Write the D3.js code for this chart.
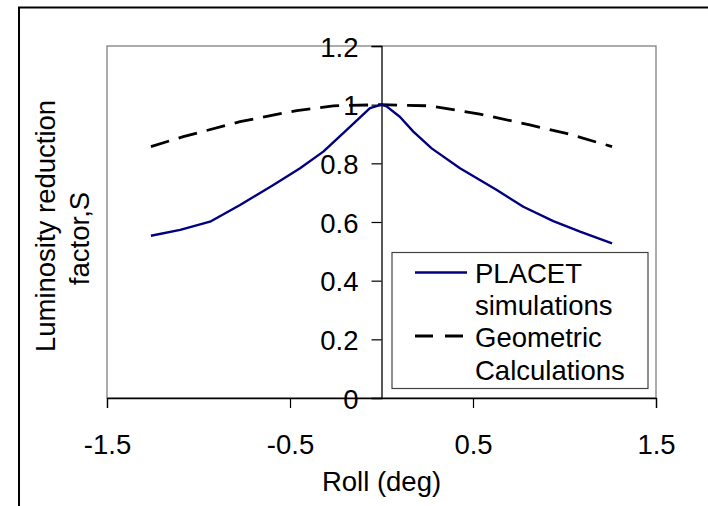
<!DOCTYPE html>
<html>
<head>
<meta charset="utf-8">
<script src="https://cdn.jsdelivr.net/npm/d3@7"></script>
<style>
  html, body { margin: 0; padding: 0; background: #fff; }
  svg { display: block; }
  text { font-family: "Liberation Sans", Arial, sans-serif; fill: #000; }
</style>
</head>
<body>
<script>
// ---- data ----
const rollPlacet = [-1.26, -1.10, -0.937, -0.773, -0.591, -0.445, -0.318, -0.19, -0.063, 0, 0.028, 0.10, 0.174, 0.274, 0.429, 0.63, 0.775, 0.939, 1.085, 1.26];
const placet     = [0.553, 0.573, 0.601, 0.658, 0.726, 0.783, 0.840, 0.914, 0.988, 1.0, 0.994, 0.959, 0.908, 0.851, 0.783, 0.709, 0.652, 0.603, 0.567, 0.527];
const rollGeom   = [-1.26, -1.083, -0.773, -0.463, -0.263, 0, 0.265, 0.538, 0.81, 1.01, 1.26];
const geom       = [0.857, 0.891, 0.942, 0.98, 0.996, 1.0, 0.996, 0.968, 0.931, 0.902, 0.857];
const xTicks = [-1.5, -0.5, 0.5, 1.5];
const yTicks = [0, 0.2, 0.4, 0.6, 0.8, 1, 1.2];
const seriesNames = [["PLACET", "simulations"], ["Geometric", "Calculations"]];
const xTitle = "Roll (deg)";
const yTitle = ["Luminosity reduction", "factor,S"];

(function () {
const W = 708, H = 506;
const svg = d3.select("body").append("svg").attr("width", W).attr("height", H);

const pL = 107, pR = 656, pT = 46, pB = 398;
const x = d3.scaleLinear().domain([-1.5, 1.5]).range([pL, pR]);
const y = d3.scaleLinear().domain([0, 1.2]).range([pB, pT]);
const FS = 27.5;
const FF = "Liberation Sans, Arial, sans-serif";
const fmt = d => String(d);

// outer frame
svg.append("path")
  .attr("d", `M19,${H + 5} L19,7.5 L${W + 5},7.5`)
  .attr("fill", "none").attr("stroke", "#000").attr("stroke-width", 2);

// plot area border
svg.append("rect")
  .attr("x", pL).attr("y", pT).attr("width", pR - pL).attr("height", pB - pT)
  .attr("fill", "none").attr("stroke", "#808080").attr("stroke-width", 1.3);

// x axis
const xAxis = d3.axisBottom(x).tickValues(xTicks).tickSize(10).tickPadding(18).tickFormat(fmt);
const gx = svg.append("g").attr("transform", `translate(0,${pB})`).call(xAxis);
gx.select(".domain").attr("stroke", "#000").attr("stroke-width", 1.3);
gx.selectAll(".tick line").attr("stroke", "#000").attr("stroke-width", 1.2);
gx.selectAll(".tick text").attr("font-size", FS).attr("font-family", FF)
  .attr("dy", null).attr("y", 55.5);

// y axis at x = 0
const yAxis = d3.axisLeft(y).tickValues(yTicks).tickSize(10).tickPadding(14).tickFormat(fmt);
const gy = svg.append("g").attr("transform", `translate(${x(0)},0)`).call(yAxis);
gy.select(".domain").attr("stroke", "#000").attr("stroke-width", 1.3);
gy.selectAll(".tick line").attr("stroke", "#000").attr("stroke-width", 1.2);
gy.selectAll(".tick text").attr("font-size", FS).attr("font-family", FF)
  .attr("dy", null).attr("y", 10).attr("x", -23);

// lines
const line = d3.line().x(d => x(d[0])).y(d => y(d[1]));
svg.append("path")
  .datum(rollGeom.map((r, i) => [r, geom[i]]))
  .attr("d", line).attr("fill", "none").attr("stroke", "#000")
  .attr("stroke-width", 2.8).attr("stroke-dasharray", "19,10");
svg.append("path")
  .datum(rollPlacet.map((r, i) => [r, placet[i]]))
  .attr("d", line).attr("fill", "none").attr("stroke", "#000080")
  .attr("stroke-width", 2.4).attr("stroke-linejoin", "round");

// legend
const lg = svg.append("g");
lg.append("rect").attr("x", 392).attr("y", 252.5).attr("width", 256).attr("height", 136)
  .attr("fill", "#fff").attr("stroke", "#444").attr("stroke-width", 1.2);
lg.append("line").attr("x1", 415).attr("x2", 467).attr("y1", 272.5).attr("y2", 272.5)
  .attr("stroke", "#000080").attr("stroke-width", 2.4);
lg.append("line").attr("x1", 415).attr("x2", 463).attr("y1", 336).attr("y2", 336)
  .attr("stroke", "#000").attr("stroke-width", 2.8).attr("stroke-dasharray", "18,12");
const legY = [[283, 315], [346.5, 380]];
seriesNames.forEach((lines, i) => {
  lines.forEach((t, j) => {
    lg.append("text").attr("x", 475).attr("y", legY[i][j]).attr("font-size", FS).text(t);
  });
});

// axis titles
svg.append("text").attr("x", 381.5).attr("y", 491).attr("text-anchor", "middle")
  .attr("font-size", FS).text(xTitle);
svg.append("text").attr("transform", "translate(55,226) rotate(-90)").attr("text-anchor", "middle")
  .attr("font-size", FS).text(yTitle[0]);
svg.append("text").attr("transform", "translate(88.5,238.5) rotate(-90)").attr("text-anchor", "middle")
  .attr("font-size", FS).text(yTitle[1]);
})();
</script>
</body>
</html>
